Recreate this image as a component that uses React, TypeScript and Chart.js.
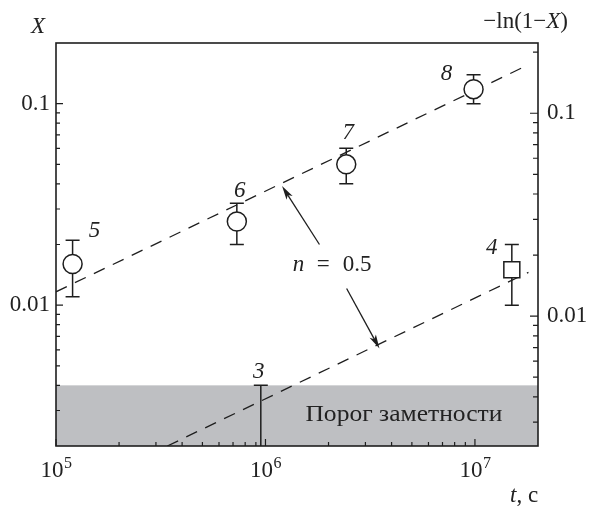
import React, { useEffect, useRef } from 'react';
import { Chart, registerables } from 'chart.js';

Chart.register(...registerables);

// ---------- data ----------
const circleTimes = [1.2e5, 7.3e5, 2.43e6, 9.85e6];
const circleValues = [0.016, 0.026, 0.05, 0.118];
const circleErrLow = [0.011, 0.02, 0.04, 0.1];
const circleErrHigh = [0.021, 0.032, 0.06, 0.139];
const circleNumbers = ['5', '6', '7', '8'];

const squareTimes = [1.5e7];
const squareValues = [0.015];
const squareErrLow = [0.01];
const squareErrHigh = [0.02];
const squareNumbers = ['4'];

const limitTimes = [9.5e5];
const limitValues = [0.004];
const limitNumbers = ['3'];

const thresholdValue = 0.004;
const thresholdText = 'Порог заметности';
const thresholdTextTime = 4.58e6;
const thresholdTextValue = 0.00267;

const fitUpperTimes = [1e5, 1.8e7];
const fitUpperValues = [0.01165, 0.156];
const fitLowerTimes = [3.4e5, 1.8e7];
const fitLowerValues = [0.002, 0.01455];

const arrowFromTimes = [1.81e6, 2.44e6];
const arrowFromValues = [0.02, 0.0121];
const arrowToTimes = [1.2e6, 3.5e6];
const arrowToValues = [0.039, 0.0061];
const slopeVar = 'n';
const slopeRest = ['=', '0.5'];
const slopeTextTime = 1.35e6;
const slopeTextValue = 0.0147;

const xRange = [1e5, 2e7];
const yLeftRange = [0.002, 0.2];
const yRightRange = [0.00229, 0.222];

const xMajorTicks = [1e5, 1e6, 1e7];
const xMajorExponents = ['5', '6', '7'];
const xMinorTicks = [2e5, 3e5, 4e5, 5e5, 6e5, 7e5, 8e5, 9e5, 2e6, 3e6, 4e6, 5e6, 6e6, 7e6, 8e6, 9e6];
const yMajorTicks = [0.01, 0.1];
const yMajorLabels = ['0.01', '0.1'];
const yLeftMinorTicks = [0.003, 0.004, 0.005, 0.006, 0.007, 0.008, 0.009, 0.02, 0.03, 0.04, 0.05, 0.06, 0.07, 0.08, 0.09];
const yRightMinorTicks = [0.003, 0.004, 0.005, 0.006, 0.007, 0.008, 0.009, 0.02, 0.03, 0.04, 0.05, 0.06, 0.07, 0.08, 0.09, 0.2];

// ---------- styles ----------
const INK = '#1e1e1e';
const BAND = '#bebfc2';
const SERIF = '"Liberation Serif", "DejaVu Serif", serif';
const FONT_SIZE = 23;
const BAND_TEXT_WIDTH = 197;
const circleLabelOffsets = [[22, -27], [3, -25], [2, -25], [-27, -9.5]];
const squareLabelOffsets = [[-20, -16]];
const limitLabelOffsets = [[-2, -7]];

function drawErrorBar(ctx: CanvasRenderingContext2D, x: number, yLow: number, yHigh: number, lowCap: boolean) {
  const cap = 7;
  ctx.beginPath();
  ctx.moveTo(x, yLow);
  ctx.lineTo(x, yHigh);
  ctx.moveTo(x - cap, yHigh);
  ctx.lineTo(x + cap, yHigh);
  if (lowCap) {
    ctx.moveTo(x - cap, yLow);
    ctx.lineTo(x + cap, yLow);
  }
  ctx.stroke();
}

function drawArrow(ctx: CanvasRenderingContext2D, x1: number, y1: number, x2: number, y2: number) {
  const ang = Math.atan2(y2 - y1, x2 - x1);
  const L = 14, W = 3.6;
  const c = Math.cos(ang), s = Math.sin(ang);
  ctx.beginPath();
  ctx.moveTo(x1, y1);
  ctx.lineTo(x2 - L * 0.7 * c, y2 - L * 0.7 * s);
  ctx.stroke();
  ctx.beginPath();
  ctx.moveTo(x2, y2);
  ctx.lineTo(x2 - L * c + W * s, y2 - L * s - W * c);
  ctx.lineTo(x2 - L * 0.75 * c, y2 - L * 0.75 * s);
  ctx.lineTo(x2 - L * c - W * s, y2 - L * s + W * c);
  ctx.closePath();
  ctx.fill();
}

const decorPlugin = {
  id: 'decor',
  beforeDatasetsDraw(chart: any) {
    const { ctx, chartArea: a, scales } = chart;
    const xs = scales.x, ys = scales.y;
    ctx.save();
    // threshold band
    const yTop = ys.getPixelForValue(thresholdValue);
    ctx.fillStyle = BAND;
    ctx.fillRect(a.left, yTop, a.right - a.left, a.bottom - yTop);
    ctx.fillStyle = '#222';
    ctx.font = `${FONT_SIZE}px ${SERIF}`;
    ctx.textAlign = 'center';
    ctx.textBaseline = 'alphabetic';
    const tw = ctx.measureText(thresholdText).width;
    const k = tw > 0 ? BAND_TEXT_WIDTH / tw : 1;
    ctx.save();
    ctx.translate(xs.getPixelForValue(thresholdTextTime), ys.getPixelForValue(thresholdTextValue));
    ctx.scale(k, 1);
    ctx.fillText(thresholdText, 0, 0);
    ctx.restore();

    // error bars
    ctx.strokeStyle = INK;
    ctx.lineWidth = 1.5;
    circleTimes.forEach((t, i) => {
      drawErrorBar(ctx, xs.getPixelForValue(t), ys.getPixelForValue(circleErrLow[i]), ys.getPixelForValue(circleErrHigh[i]), true);
    });
    squareTimes.forEach((t, i) => {
      drawErrorBar(ctx, xs.getPixelForValue(t), ys.getPixelForValue(squareErrLow[i]), ys.getPixelForValue(squareErrHigh[i]), true);
    });
    limitTimes.forEach((t, i) => {
      drawErrorBar(ctx, xs.getPixelForValue(t), a.bottom, ys.getPixelForValue(limitValues[i]), false);
    });
    ctx.restore();
  },
  afterDatasetsDraw(chart: any) {
    const { ctx, chartArea: a, scales } = chart;
    const xs = scales.x, ys = scales.y, yr = scales.y2;
    ctx.save();
    ctx.strokeStyle = INK;
    ctx.fillStyle = INK;

    // frame
    ctx.lineWidth = 1.6;
    ctx.strokeRect(a.left, a.top, a.right - a.left, a.bottom - a.top);

    // tick marks (inward)
    ctx.lineWidth = 1.2;
    ctx.beginPath();
    xMajorTicks.forEach((v) => { const p = xs.getPixelForValue(v); ctx.moveTo(p, a.bottom); ctx.lineTo(p, a.bottom - 7); });
    xMinorTicks.forEach((v) => { const p = xs.getPixelForValue(v); ctx.moveTo(p, a.bottom); ctx.lineTo(p, a.bottom - 4); });
    yMajorTicks.forEach((v) => { const p = ys.getPixelForValue(v); ctx.moveTo(a.left, p); ctx.lineTo(a.left + 7, p); });
    yLeftMinorTicks.forEach((v) => { const p = ys.getPixelForValue(v); ctx.moveTo(a.left, p); ctx.lineTo(a.left + 4, p); });
    yMajorTicks.forEach((v) => { const p = yr.getPixelForValue(v); ctx.moveTo(a.right, p); ctx.lineTo(a.right - 8, p); });
    yRightMinorTicks.forEach((v) => { const p = yr.getPixelForValue(v); ctx.moveTo(a.right, p); ctx.lineTo(a.right - 5, p); });
    ctx.stroke();

    // x tick labels 10^n
    ctx.fillStyle = '#222';
    ctx.textBaseline = 'alphabetic';
    ctx.textAlign = 'left';
    xMajorTicks.forEach((v, i) => {
      const p = xs.getPixelForValue(v);
      ctx.font = `${FONT_SIZE}px ${SERIF}`;
      const w1 = ctx.measureText('10').width;
      ctx.font = `16px ${SERIF}`;
      const w2 = ctx.measureText(xMajorExponents[i]).width;
      const start = p - (w1 + w2) / 2;
      ctx.font = `${FONT_SIZE}px ${SERIF}`;
      ctx.fillText('10', start, a.bottom + 31);
      ctx.font = `16px ${SERIF}`;
      ctx.fillText(xMajorExponents[i], start + w1 + 0.5, a.bottom + 22);
    });

    // point numbers
    ctx.font = `italic ${FONT_SIZE}px ${SERIF}`;
    ctx.textAlign = 'center';
    circleTimes.forEach((t, i) => {
      ctx.fillText(circleNumbers[i], xs.getPixelForValue(t) + circleLabelOffsets[i][0], ys.getPixelForValue(circleValues[i]) + circleLabelOffsets[i][1]);
    });
    squareTimes.forEach((t, i) => {
      ctx.fillText(squareNumbers[i], xs.getPixelForValue(t) + squareLabelOffsets[i][0], ys.getPixelForValue(squareValues[i]) + squareLabelOffsets[i][1]);
    });
    limitTimes.forEach((t, i) => {
      ctx.fillText(limitNumbers[i], xs.getPixelForValue(t) + limitLabelOffsets[i][0], ys.getPixelForValue(limitValues[i]) + limitLabelOffsets[i][1]);
    });

    // arrows
    ctx.strokeStyle = INK;
    ctx.fillStyle = INK;
    ctx.lineWidth = 1.3;
    arrowFromTimes.forEach((t, i) => {
      drawArrow(ctx, xs.getPixelForValue(t), ys.getPixelForValue(arrowFromValues[i]), xs.getPixelForValue(arrowToTimes[i]), ys.getPixelForValue(arrowToValues[i]));
    });

    // n = 0.5
    ctx.fillStyle = '#222';
    ctx.textAlign = 'left';
    const sx = xs.getPixelForValue(slopeTextTime);
    const sy = ys.getPixelForValue(slopeTextValue);
    ctx.font = `italic ${FONT_SIZE}px ${SERIF}`;
    ctx.fillText(slopeVar, sx, sy);
    ctx.font = `${FONT_SIZE}px ${SERIF}`;
    ctx.fillText(slopeRest[0], sx + 24, sy);
    ctx.fillText(slopeRest[1], sx + 50, sy);

    // axis titles
    ctx.font = `italic ${FONT_SIZE}px ${SERIF}`;
    ctx.textAlign = 'center';
    ctx.fillText('X', 38, a.top - 10);

    // right title: −ln(1−X)
    ctx.textAlign = 'left';
    ctx.font = `${FONT_SIZE}px ${SERIF}`;
    const p1 = '\u2212ln(1\u2212';
    const w1 = ctx.measureText(p1).width;
    ctx.font = `italic ${FONT_SIZE}px ${SERIF}`;
    const w2 = ctx.measureText('X').width;
    ctx.font = `${FONT_SIZE}px ${SERIF}`;
    const w3 = ctx.measureText(')').width;
    const endX = 568;
    const startX = endX - (w1 + w2 + w3);
    const by = a.top - 15;
    ctx.fillText(p1, startX, by);
    ctx.font = `italic ${FONT_SIZE}px ${SERIF}`;
    ctx.fillText('X', startX + w1, by);
    ctx.font = `${FONT_SIZE}px ${SERIF}`;
    ctx.fillText(')', startX + w1 + w2, by);

    // bottom title: t, с
    ctx.font = `italic ${FONT_SIZE}px ${SERIF}`;
    const tw = ctx.measureText('t').width;
    ctx.fillText('t', 510, a.bottom + 56);
    ctx.font = `${FONT_SIZE}px ${SERIF}`;
    ctx.fillText(', с', 510 + tw, a.bottom + 56);

    ctx.restore();
  },
};

function matchLabel(v: number) {
  const i = yMajorTicks.findIndex((m) => Math.abs(m - v) / m < 1e-6);
  return i >= 0 ? yMajorLabels[i] : '';
}

export default function App() {
  const ref = useRef<HTMLCanvasElement>(null);
  useEffect(() => {
    const canvas = ref.current;
    if (!canvas) return;
    const tickFont = { family: SERIF, size: FONT_SIZE };
    const chart = new Chart(canvas, {
      type: 'scatter',
      data: {
        datasets: [
          {
            label: 'fit upper',
            data: fitUpperTimes.map((t, i) => ({ x: t, y: fitUpperValues[i] })),
            showLine: true,
            borderColor: INK,
            borderWidth: 1.3,
            borderDash: [12, 9],
            pointRadius: 0,
            fill: false,
            order: 2,
            yAxisID: 'y',
          },
          {
            label: 'fit lower',
            data: fitLowerTimes.map((t, i) => ({ x: t, y: fitLowerValues[i] })),
            showLine: true,
            borderColor: INK,
            borderWidth: 1.3,
            borderDash: [12, 9],
            pointRadius: 0,
            fill: false,
            order: 2,
            yAxisID: 'y',
          },
          {
            label: 'circles',
            data: circleTimes.map((t, i) => ({ x: t, y: circleValues[i] })),
            pointStyle: 'circle',
            pointRadius: 9.5,
            pointBackgroundColor: '#ffffff',
            pointBorderColor: INK,
            pointBorderWidth: 1.5,
            order: 0,
            yAxisID: 'y',
          },
          {
            label: 'square',
            data: squareTimes.map((t, i) => ({ x: t, y: squareValues[i] })),
            pointStyle: 'rect',
            pointRadius: 11.3,
            pointBackgroundColor: '#ffffff',
            pointBorderColor: INK,
            pointBorderWidth: 1.5,
            order: 0,
            yAxisID: 'y',
          },
        ],
      },
      options: {
        responsive: false,
        animation: false,
        devicePixelRatio: 1,
        events: [],
        layout: { padding: { top: 43, left: 0, right: 0, bottom: 0 } },
        plugins: { legend: { display: false }, tooltip: { enabled: false } },
        scales: {
          x: {
            type: 'logarithmic',
            position: 'bottom',
            min: xRange[0],
            max: xRange[1],
            grid: { display: false, drawTicks: false },
            border: { display: false },
            ticks: { display: false },
            afterFit: (s: any) => { s.height = 60; },
          },
          y: {
            type: 'logarithmic',
            position: 'left',
            min: yLeftRange[0],
            max: yLeftRange[1],
            grid: { display: false, drawTicks: false },
            border: { display: false },
            ticks: { font: tickFont, color: '#222', padding: 6, autoSkip: false, callback: (v: any) => matchLabel(Number(v)) },
            afterBuildTicks: (s: any) => { s.ticks = yMajorTicks.map((v) => ({ value: v })); },
            afterFit: (s: any) => { s.width = 56; },
          },
          y2: {
            type: 'logarithmic',
            position: 'right',
            min: yRightRange[0],
            max: yRightRange[1],
            grid: { display: false, drawTicks: false },
            border: { display: false },
            ticks: { font: tickFont, color: '#222', padding: 9, autoSkip: false, callback: (v: any) => matchLabel(Number(v)) },
            afterBuildTicks: (s: any) => { s.ticks = yMajorTicks.map((v) => ({ value: v })); },
            afterFit: (s: any) => { s.width = 51; },
          },
        },
      } as any,
      plugins: [decorPlugin],
    });
    return () => chart.destroy();
  }, []);
  return (
    <div style={{ position: 'absolute', left: 0, top: 0, width: 589, height: 506, background: '#fff' }}>
      <canvas ref={ref} width={589} height={506} style={{ display: 'block' }} />
    </div>
  );
}
